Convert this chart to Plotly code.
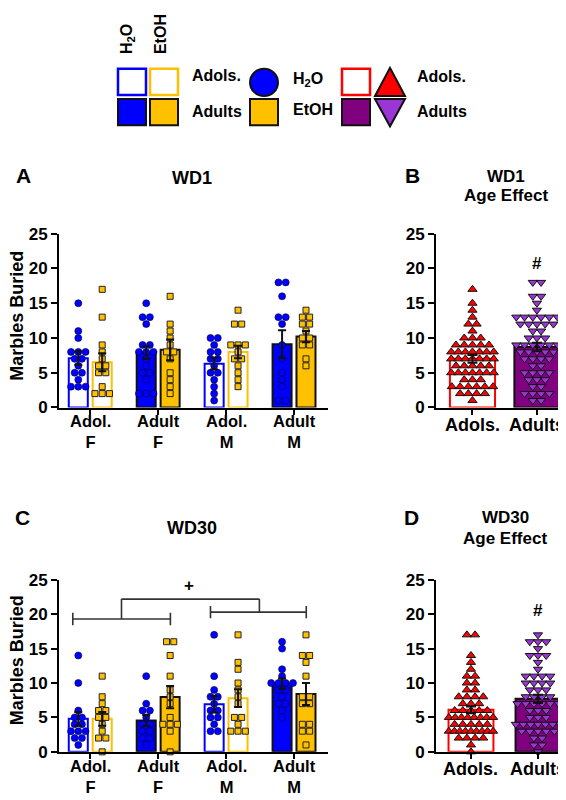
import plotly.graph_objects as go
from collections import Counter

W, H = 566, 800

# ---------------- DATA ----------------
groups = ["Adol.<br>F", "Adult<br>F", "Adol.<br>M", "Adult<br>M"]
age_groups = ["Adols.", "Adults"]

# WD1 individual values
wd1_adolF_h2o = [15, 11, 10, 8, 8, 8, 7, 7, 6, 5, 5, 4, 3, 3, 3]
wd1_adolF_etoh = [17, 13, 9, 8, 7, 6, 6, 5, 5, 3, 2, 2, 2]
wd1_adultF_h2o = [15, 13, 13, 12, 9, 9, 8, 8, 8, 7, 6, 5, 5, 4, 2, 2, 2]
wd1_adultF_etoh = [16, 12, 11, 10, 9, 8, 8, 7, 5, 4, 3, 2]
wd1_adolM_h2o = [10, 10, 9, 8, 8, 7, 7, 6, 5, 5, 4, 3, 2, 1]
wd1_adolM_etoh = [14, 12, 12, 9, 9, 9, 8, 7, 7, 6, 5, 4, 3]
wd1_adultM_h2o = [18, 18, 16, 13, 13, 12, 9, 7, 5, 4, 3, 1, 1]
wd1_adultM_etoh = [14, 13, 13, 12, 12, 11, 10, 10, 9, 9, 7, 6]

# WD30 individual values
wd30_adolF_h2o = [14, 10, 6, 5, 5, 4, 4, 3, 3, 3, 2, 2, 1]
wd30_adolF_etoh = [11, 8, 7, 6, 6, 5, 5, 4, 3, 2, 2, 0]
wd30_adultF_h2o = [11, 7, 6, 6, 5, 4, 4, 3, 3, 2, 2, 1]
wd30_adultF_etoh = [16, 16, 14, 11, 9, 8, 7, 5, 4, 4, 4, 3, 0]
wd30_adolM_h2o = [17, 11, 9, 8, 8, 7, 6, 6, 5, 5, 4, 3, 3]
wd30_adolM_etoh = [17, 13, 12, 10, 9, 8, 7, 5, 5, 4, 3, 3, 3]
wd30_adultM_h2o = [16, 15, 12, 11, 10, 10, 10, 10, 9, 9, 8, 7, 7, 6, 5]
wd30_adultM_etoh = [17, 14, 14, 13, 11, 8, 8, 7, 7, 4, 4, 3, 3, 1]

# Bar means / SEM
wd1_mean_h2o = [7.1, 7.9, 6.3, 9.1]
wd1_sem_h2o = [0.95, 0.9, 0.85, 2.0]
wd1_mean_etoh = [6.5, 8.3, 8.0, 10.2]
wd1_sem_etoh = [1.3, 1.5, 0.9, 0.8]
wd30_mean_h2o = [4.8, 4.55, 6.9, 9.9]
wd30_sem_h2o = [1.0, 0.8, 1.2, 0.75]
wd30_mean_etoh = [4.8, 7.95, 7.8, 8.4]
wd30_sem_etoh = [1.0, 1.6, 1.3, 1.6]
wd1_age_mean = [7.0, 8.7]
wd1_age_sem = [0.55, 0.6]
wd30_age_mean = [6.1, 7.7]
wd30_age_sem = [0.5, 0.6]

# ---------------- STYLE ----------------
BLUE = "#0000FF"
GOLD = "#FFC000"
RED = "#FF0000"
PURPLE = "#800080"
LPURPLE = "#9B35D6"
FONT = "Liberation Sans, Arial, sans-serif"


def px(x):
    return x / W


def py(y):
    return 1 - y / H


def swarm(values, center, step, max_half=None):
    counts = Counter(values)
    seen = {}
    xs = []
    for v in values:
        n = counts[v]
        k = seen.get(v, 0)
        seen[v] = k + 1
        s = step
        if max_half is not None and n > 1:
            s = min(step, 2 * max_half / (n - 1))
        xs.append(center + (k - (n - 1) / 2) * s)
    return xs


fig = go.Figure()

H_OFF = 0.176
BW = 0.28
STEP = 0.107


def group_panel(xa, ya, h2o_lists, etoh_lists, mean_h2o, sem_h2o, mean_etoh, sem_etoh):
    idx = list(range(4))
    adult = [False, True, False, True]
    fig.add_trace(go.Bar(
        x=[i - H_OFF for i in idx], y=mean_h2o, width=BW, xaxis=xa, yaxis=ya,
        marker=dict(color=[BLUE if a else "white" for a in adult],
                    line=dict(color=["#111111" if a else BLUE for a in adult], width=2)),
        showlegend=False, hoverinfo="skip"))
    fig.add_trace(go.Bar(
        x=[i + H_OFF for i in idx], y=mean_etoh, width=BW, xaxis=xa, yaxis=ya,
        marker=dict(color=[GOLD if a else "white" for a in adult],
                    line=dict(color=["#111111" if a else GOLD for a in adult], width=2)),
        showlegend=False, hoverinfo="skip"))
    for i in idx:
        v = h2o_lists[i]
        fig.add_trace(go.Scatter(
            x=swarm(v, i - H_OFF, STEP), y=v, mode="markers", xaxis=xa, yaxis=ya,
            marker=dict(symbol="circle", size=7, color=BLUE, line=dict(color="#000033", width=0.6)),
            cliponaxis=False, showlegend=False, hoverinfo="skip"))
        v = etoh_lists[i]
        fig.add_trace(go.Scatter(
            x=swarm(v, i + H_OFF, STEP), y=v, mode="markers", xaxis=xa, yaxis=ya,
            marker=dict(symbol="square", size=6, color=GOLD, line=dict(color="#222222", width=1)),
            cliponaxis=False, showlegend=False, hoverinfo="skip"))
    fig.add_trace(go.Scatter(
        x=[i - H_OFF for i in idx] + [i + H_OFF for i in idx], y=mean_h2o + mean_etoh,
        mode="markers", xaxis=xa, yaxis=ya, marker=dict(size=1, opacity=0),
        error_y=dict(type="data", array=sem_h2o + sem_etoh, color="#111111", thickness=2, width=4),
        cliponaxis=False, showlegend=False, hoverinfo="skip"))


def age_panel(xa, ya, adol_vals, adult_vals, means, sems, step, bw):
    fig.add_trace(go.Bar(
        x=[0, 1], y=means, width=bw, xaxis=xa, yaxis=ya,
        marker=dict(color=["white", PURPLE], line=dict(color=[RED, "#111111"], width=2)),
        showlegend=False, hoverinfo="skip"))
    fig.add_trace(go.Scatter(
        x=swarm(adol_vals, 0, step, max_half=0.33), y=adol_vals, mode="markers", xaxis=xa, yaxis=ya,
        marker=dict(symbol="triangle-up", size=8, color=RED, line=dict(color="#111111", width=1)),
        cliponaxis=False, showlegend=False, hoverinfo="skip"))
    fig.add_trace(go.Scatter(
        x=swarm(adult_vals, 1, step, max_half=0.33), y=adult_vals, mode="markers", xaxis=xa, yaxis=ya,
        marker=dict(symbol="triangle-down", size=8, color=LPURPLE, line=dict(color="#111111", width=1)),
        cliponaxis=False, showlegend=False, hoverinfo="skip"))
    fig.add_trace(go.Scatter(
        x=[0, 1], y=means, mode="markers", xaxis=xa, yaxis=ya, marker=dict(size=1, opacity=0),
        error_y=dict(type="data", array=sems, color="#111111", thickness=2, width=5),
        cliponaxis=False, showlegend=False, hoverinfo="skip"))


wd1_h2o = [wd1_adolF_h2o, wd1_adultF_h2o, wd1_adolM_h2o, wd1_adultM_h2o]
wd1_etoh = [wd1_adolF_etoh, wd1_adultF_etoh, wd1_adolM_etoh, wd1_adultM_etoh]
wd30_h2o = [wd30_adolF_h2o, wd30_adultF_h2o, wd30_adolM_h2o, wd30_adultM_h2o]
wd30_etoh = [wd30_adolF_etoh, wd30_adultF_etoh, wd30_adolM_etoh, wd30_adultM_etoh]

group_panel("x", "y", wd1_h2o, wd1_etoh, wd1_mean_h2o, wd1_sem_h2o, wd1_mean_etoh, wd1_sem_etoh)
group_panel("x3", "y3", wd30_h2o, wd30_etoh, wd30_mean_h2o, wd30_sem_h2o, wd30_mean_etoh, wd30_sem_etoh)

wd1_adols = wd1_adolF_h2o + wd1_adolF_etoh + wd1_adolM_h2o + wd1_adolM_etoh
wd1_adults = wd1_adultF_h2o + wd1_adultF_etoh + wd1_adultM_h2o + wd1_adultM_etoh
wd30_adols = wd30_adolF_h2o + wd30_adolF_etoh + wd30_adolM_h2o + wd30_adolM_etoh
wd30_adults = wd30_adultF_h2o + wd30_adultF_etoh + wd30_adultM_h2o + wd30_adultM_etoh

age_panel("x2", "y2", wd1_adols, wd1_adults, wd1_age_mean, wd1_age_sem, 0.128, 0.70)
age_panel("x4", "y4", wd30_adols, wd30_adults, wd30_age_mean, wd30_age_sem, 0.122, 0.67)

ytickfont = dict(family=FONT, size=17, color="black", weight="bold")


def xax(domain, rng, vals):
    return dict(domain=domain, range=rng, tickvals=vals, showticklabels=False, showline=True,
                linecolor="black", linewidth=2, ticks="outside", ticklen=5, tickwidth=2,
                tickcolor="black", showgrid=False, zeroline=False, fixedrange=True)


def yax(domain, anchor):
    return dict(domain=domain, range=[0, 25], tickvals=[0, 5, 10, 15, 20, 25], showline=True,
                linecolor="black", linewidth=2, ticks="outside", ticklen=6, tickwidth=2,
                tickcolor="black", showgrid=False, zeroline=False, tickfont=ytickfont,
                anchor=anchor, fixedrange=True)


yA = [py(400), py(222)]
yC = [py(752.7), py(576.5)]

fig.update_layout(
    width=W, height=H, margin=dict(l=0, r=0, t=0, b=0), autosize=False,
    paper_bgcolor="white", plot_bgcolor="white", barmode="overlay",
    font=dict(family=FONT, color="black"),
    xaxis=dict(xax([px(51), px(320)], [-0.46, 3.5], [0, 1, 2, 3]), anchor="y"),
    yaxis=yax(yA, "x"),
    xaxis2=dict(xax([px(428), px(556)], [-0.566, 1.42], [0, 1]), anchor="y2"),
    yaxis2=yax(yA, "x2"),
    xaxis3=dict(xax([px(51), px(320)], [-0.46, 3.5], [0, 1, 2, 3]), anchor="y3"),
    yaxis3=yax(yC, "x3"),
    xaxis4=dict(xax([px(428), px(557)], [-0.522, 1.403], [0, 1]), anchor="y4"),
    yaxis4=yax(yC, "x4"),
)

shapes = []
ann = []


def text(x, y, s, size, xanchor="center", angle=0, yanchor="middle"):
    ann.append(dict(x=px(x), y=py(y), xref="paper", yref="paper", text="<b>" + s + "</b>",
                    showarrow=False, xanchor=xanchor, yanchor=yanchor, textangle=angle,
                    font=dict(family=FONT, size=size, color="black")))


def cat_label(xref, xval, ypix, s, size):
    ann.append(dict(x=xval, y=py(ypix), xref=xref, yref="paper", text="<b>" + s + "</b>",
                    showarrow=False, xanchor="center", yanchor="top", borderpad=0,
                    font=dict(family=FONT, size=size, color="black")))


# category (x tick) labels
for i in range(4):
    cat_label("x", i, 404, groups[i], 16.5)
    cat_label("x3", i, 757, groups[i], 16.5)
for i in range(2):
    cat_label("x2", i, 407, age_groups[i], 18)
    cat_label("x4", i, 759, age_groups[i], 18)

# panel letters and titles
text(15, 162, "A", 21)
text(184, 165, "WD1", 18)
text(404, 162, "B", 21)
text(498, 163, "WD1", 17)
text(498, 183, "Age Effect", 17)
text(14, 513, "C", 21)
text(184, 523, "WD30", 18)
text(403, 513, "D", 21)
text(497, 513, "WD30", 17)
text(497, 534, "Age Effect", 17)
text(9, 306, "Marbles Buried", 18, angle=-90)
text(9, 659, "Marbles Buried", 18, angle=-90)

# significance markers
ann.append(dict(x=1, y=20.7, xref="x2", yref="y2", text="<b>#</b>", showarrow=False,
                font=dict(family=FONT, size=17, color="black")))
ann.append(dict(x=1, y=20.5, xref="x4", yref="y4", text="<b>#</b>", showarrow=False,
                font=dict(family=FONT, size=17, color="black")))
ann.append(dict(x=1.46, y=24.1, xref="x3", yref="y3", text="<b>+</b>", showarrow=False,
                font=dict(family=FONT, size=17, color="black")))

# brackets in C
BR = dict(color="#333333", width=1.6)


def seg(x0, y0, x1, y1):
    shapes.append(dict(type="line", xref="x3", yref="y3", x0=x0, y0=y0, x1=x1, y1=y1, line=BR))


bl_y, br_y, top_y = 19.3, 20.3, 22.2
seg(-0.257, bl_y, 1.18, bl_y)
seg(-0.257, bl_y - 0.9, -0.257, bl_y + 0.9)
seg(1.18, bl_y - 0.9, 1.18, bl_y + 0.9)
seg(1.77, br_y, 3.18, br_y)
seg(1.77, br_y - 0.9, 1.77, br_y + 0.9)
seg(3.18, br_y - 0.9, 3.18, br_y + 0.9)
seg(0.46, top_y, 2.49, top_y)
seg(0.46, bl_y, 0.46, top_y)
seg(2.49, br_y, 2.49, top_y)


# ---------------- legend (top) ----------------
def rect(x0, y0, x1, y1, fill, line, lw):
    shapes.append(dict(type="rect", xref="paper", yref="paper", x0=px(x0), x1=px(x1),
                       y0=py(y1), y1=py(y0), fillcolor=fill, line=dict(color=line, width=lw)))


rect(110, 53, 138, 80, "white", BLUE, 2.5)
rect(142, 53, 170, 80, "white", GOLD, 2.5)
rect(110, 84, 138, 111, BLUE, "#111111", 2)
rect(142, 84, 170, 111, GOLD, "#111111", 2)
shapes.append(dict(type="circle", xref="paper", yref="paper", x0=px(242), x1=px(270),
                   y0=py(81), y1=py(53), fillcolor=BLUE, line=dict(color="#111111", width=2)))
rect(242, 84, 270, 111, GOLD, "#111111", 2)
rect(334, 53, 362, 80, "white", RED, 2.5)
rect(334, 84, 362, 111, PURPLE, "#111111", 2)


def tri(points, fill):
    d = "M " + " L ".join(f"{px(a)},{py(b)}" for a, b in points) + " Z"
    shapes.append(dict(type="path", xref="paper", yref="paper", path=d, fillcolor=fill,
                       line=dict(color="#111111", width=2)))


tri([(367, 81), (397, 81), (382, 52)], RED)
tri([(367, 84), (397, 84), (382, 112)], LPURPLE)

text(119, 40, "H<sub>2</sub>O", 16, angle=-90, yanchor="bottom")
text(152, 40, "EtOH", 16, angle=-90, yanchor="bottom")
text(182, 60, "Adols.", 16, xanchor="left")
text(182, 97, "Adults", 16, xanchor="left")
text(283, 64, "H<sub>2</sub>O", 16, xanchor="left")
text(283, 95, "EtOH", 16, xanchor="left")
text(407, 61, "Adols.", 16, xanchor="left")
text(407, 97, "Adults", 16, xanchor="left")

fig.update_layout(shapes=shapes, annotations=ann)
fig.write_html("out.html")
